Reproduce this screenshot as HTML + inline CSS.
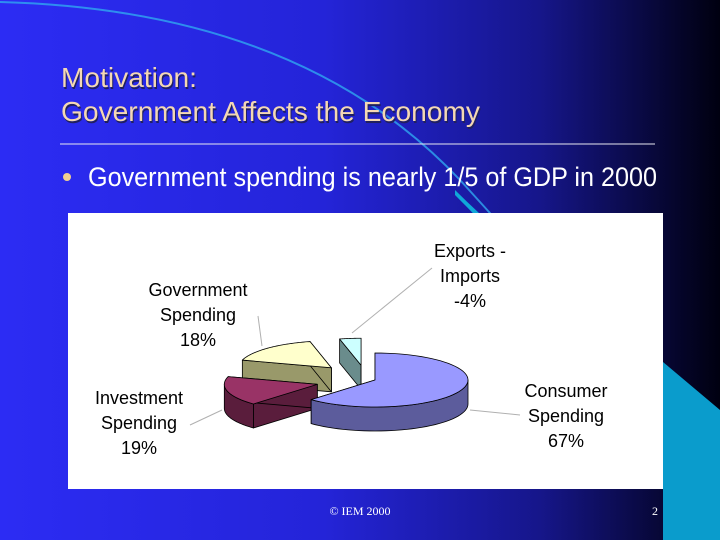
<!DOCTYPE html>
<html><head><meta charset="utf-8"><style>
body{margin:0;width:720px;height:540px;overflow:hidden;font-family:"Liberation Sans",sans-serif}
#slide{position:relative;width:720px;height:540px}
svg{position:absolute;left:0;top:0}
</style></head><body>
<div id="slide">
<svg width="720" height="540">
<defs><linearGradient id="bg" x1="0" y1="0" x2="1" y2="0">
<stop offset="0" stop-color="#2c2cf4"/><stop offset="0.45" stop-color="#2424d8"/><stop offset="0.75" stop-color="#16168a"/><stop offset="0.93" stop-color="#060630"/><stop offset="1" stop-color="#000010"/></linearGradient></defs>
<rect width="720" height="540" fill="url(#bg)"/>
<path d="M0,2 Q300,10 460,180 Q510,235 550,280" fill="none" stroke="#30a8f0" stroke-width="2" opacity="0.8"/>
<path d="M455,190 Q500,235 565,285 L540,285 Q500,240 455,195Z" fill="#10a8d8"/>
<path d="M663,362 L720,410 L720,540 L663,540Z" fill="#0a9ccc"/>
<line x1="60" y1="144" x2="655" y2="144" stroke="#e8e8f0" stroke-width="1"/>
<circle cx="67" cy="177" r="4" fill="#f0d090"/>
<text font-size="28" fill="#202060"><tspan x="62" y="89" textLength="136" lengthAdjust="spacingAndGlyphs">Motivation:</tspan><tspan x="62" y="123" textLength="419" lengthAdjust="spacingAndGlyphs">Government Affects the Economy</tspan></text>
<text font-size="28" fill="#f4d8b4"><tspan x="61" y="87" textLength="136" lengthAdjust="spacingAndGlyphs">Motivation:</tspan><tspan x="61" y="121" textLength="419" lengthAdjust="spacingAndGlyphs">Government Affects the Economy</tspan></text>
<text x="88" y="186" font-size="27" fill="#ffffff" textLength="569" lengthAdjust="spacingAndGlyphs">Government spending is nearly 1/5 of GDP in 2000</text>
<rect x="68" y="213" width="595" height="276" fill="#ffffff"/>
<text x="360" y="515" font-size="12" fill="#ffffff" text-anchor="middle" font-family="Liberation Serif,serif">© IEM 2000</text>
<text x="652" y="515" font-size="12" fill="#ffffff" font-family="Liberation Serif,serif">2</text>
<g id="pie"></g>
</svg>
</div>
<script>
const categories=["Consumer Spending","Investment Spending","Government Spending","Exports - Imports"];
const values=[67,19,18,-4];
const explode=[0,0.62,0.62,0.55];
const labelText=[["Consumer","Spending","67%"],["Investment","Spending","19%"],["Government","Spending","18%"],["Exports -","Imports","-4%"]];
const topColors=["#9999ff","#993366","#ffffcc","#ccffff"];
const sideColors=["#5c5c9c","#5a1d3c","#99996a","#6a8c8c"];
const shiftX=[0,-2,-4,-8];
const labelPos=[[566,391],[139,398],[198,290],[470,251]];
const leaderEnd=[[470,410],[222,410],[262,346],[352,333]];
const leaderStart=[[520,415],[190,425],[258,316],[432,268]];

const NS="http://www.w3.org/2000/svg";
const g=document.getElementById('pie');
const cx=375,cy=380,rx=93,ry=27,depth=24;
const total=values.reduce((s,v)=>s+Math.abs(v),0);
function mk(tag,attrs){const e=document.createElementNS(NS,tag);for(const k in attrs)e.setAttribute(k,attrs[k]);return e;}
function pt(a,ox,oy,dz){return [cx+ox+rx*Math.cos(a),cy+oy+ry*Math.sin(a)+(dz||0)];}
const slices=[];let a=-Math.PI/2;
values.forEach((v,i)=>{const sweep=Math.abs(v)/total*2*Math.PI;slices.push({i,a0:a,a1:a+sweep});a+=sweep;});
slices.forEach(s=>{
  const ln=mk('line',{x1:leaderStart[s.i][0],y1:leaderStart[s.i][1],x2:leaderEnd[s.i][0],y2:leaderEnd[s.i][1],stroke:'#b0b0b0','stroke-width':1});
  
  
  g.appendChild(ln);
});
const order=[2,3,1,0];
order.forEach(idx=>{
  const s=slices[idx];const mid=(s.a0+s.a1)/2;
  const ox=explode[idx]*rx*Math.cos(mid)+shiftX[idx],oy=explode[idx]*ry*Math.sin(mid);
  const grp=mk('g',{});
  
  
  const c=[cx+ox,cy+oy];
  const st={stroke:'#000','stroke-width':0.8,'stroke-linejoin':'round'};
  [s.a0,s.a1].forEach(an=>{
    const p=pt(an,ox,oy);
    grp.appendChild(mk('polygon',Object.assign({points:[c,[c[0],c[1]+depth],[p[0],p[1]+depth],p].map(q=>q.join(',')).join(' '),fill:sideColors[idx]},st)));
  });
  for(const shift of [0,2*Math.PI,-2*Math.PI]){
    const lo=Math.max(s.a0,shift),hi=Math.min(s.a1,Math.PI+shift);
    if(hi>lo){
      const top=[],bot=[];
      for(let k=0;k<=40;k++){const an=lo+(hi-lo)*k/40;top.push(pt(an,ox,oy));bot.push(pt(an,ox,oy,depth));}
      grp.appendChild(mk('polygon',Object.assign({points:top.concat(bot.reverse()).map(q=>q.join(',')).join(' '),fill:sideColors[idx]},st)));
    }
  }
  const tp=[c];for(let k=0;k<=60;k++){tp.push(pt(s.a0+(s.a1-s.a0)*k/60,ox,oy));}
  grp.appendChild(mk('polygon',Object.assign({points:tp.map(q=>q.join(',')).join(' '),fill:topColors[idx]},st)));
  g.appendChild(grp);
});
slices.forEach(s=>{
  const t=mk('text',{'font-size':18,fill:'#000','text-anchor':'middle','font-family':'Liberation Sans,sans-serif'});
  
  
  labelText[s.i].forEach((ln,k)=>{const ts=mk('tspan',{x:labelPos[s.i][0],y:labelPos[s.i][1]+6+k*25});ts.textContent=ln;t.appendChild(ts);});
  g.appendChild(t);
});
</script>
</body></html>
